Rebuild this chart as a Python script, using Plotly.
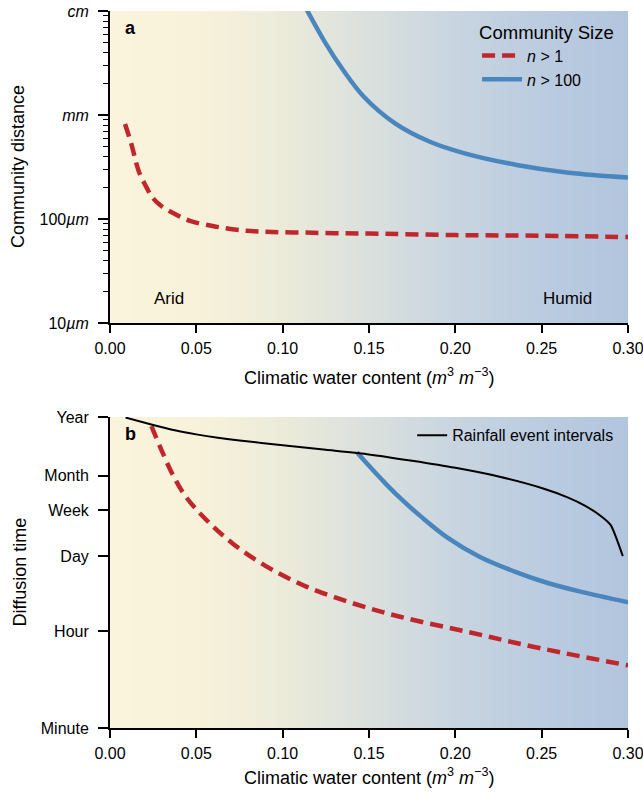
import plotly.graph_objects as go
import numpy as np

# ---------------- data ----------------
# Panel a: community distance (micrometres) vs climatic water content
a_n1_x = [0.0087, 0.0122, 0.0168, 0.0208, 0.0243, 0.029, 0.0365, 0.0463, 0.062, 0.079, 0.094, 0.112, 0.13, 0.15, 0.2, 0.25, 0.3]
a_n1_y = [818, 538, 283, 207, 163, 136, 114, 96, 84, 77, 75, 74, 73, 72.5, 70, 69, 67]

a_n100_x = [0.113, 0.1249, 0.135, 0.147, 0.1651, 0.1853, 0.2054, 0.2355, 0.2657, 0.3]
a_n100_y = [11000, 4890, 2710, 1500, 832, 553, 428, 331, 279, 251]

# Panel b: diffusion time (seconds)
b_n1_x = [0.024, 0.029, 0.036, 0.044, 0.056, 0.071, 0.091, 0.114, 0.141, 0.168, 0.207, 0.245, 0.3]
b_n1_y = [2.14e7, 8.9e6, 2.88e6, 1.07e6, 3.98e5, 1.49e5, 5.53e4, 2.37e4, 1.17e4, 6670, 3530, 1875, 850]

b_n100_x = [0.143, 0.150, 0.160, 0.170, 0.180, 0.195, 0.214, 0.234, 0.253, 0.272, 0.3]
b_n100_y = [7.08e6, 3.98e6, 1.82e6, 8.9e5, 4.68e5, 1.95e5, 8.5e4, 4.57e4, 2.82e4, 1.95e4, 1.23e4]

rain_x = [0.009, 0.025, 0.0375, 0.05, 0.0625, 0.075, 0.1, 0.125, 0.15, 0.175, 0.2, 0.225, 0.25, 0.265, 0.275, 0.285, 0.29, 0.297]
rain_y = [3.08e7, 2.25e7, 1.80e7, 1.51e7, 1.31e7, 1.17e7, 9.5e6, 7.85e6, 6.46e6, 4.93e6, 3.66e6, 2.54e6, 1.56e6, 1.05e6,
          7.41e5, 4.57e5, 3.24e5, 8.7e4]

x_ticks = [0.0, 0.05, 0.10, 0.15, 0.20, 0.25, 0.30]
a_tickvals = [10, 100, 1000, 10000]
a_ticktext = ["10<i>µm</i>", "100<i>µm</i>", "<i>mm</i>", "<i>cm</i>"]
a_minor = [m * d for d in (10, 100, 1000) for m in range(2, 10)]
b_tickvals = [60, 3600, 86400, 604800, 2629800, 31557600]
b_ticktext = ["Minute", "Hour", "Day", "Week", "Month", "Year"]

# ---------------- figure ----------------
FONT = "Liberation Sans, Arial, sans-serif"
RED = "#C0272D"
BLUE = "#4A86BE"
TICKF = 16
TITLEF = 18

fig = go.Figure()

fig.add_trace(go.Scatter(x=a_n1_x, y=a_n1_y, mode="lines", line=dict(color=RED, width=4.5, dash="13px,7px", shape="spline"),
                         name="<i>n</i> > 1", xaxis="x", yaxis="y", legend="legend"))
fig.add_trace(go.Scatter(x=a_n100_x, y=a_n100_y, mode="lines", line=dict(color=BLUE, width=4.5, shape="spline"),
                         name="<i>n</i> > 100", xaxis="x", yaxis="y", legend="legend"))
fig.add_trace(go.Scatter(x=b_n1_x, y=b_n1_y, mode="lines", line=dict(color=RED, width=4.5, dash="13px,7px", shape="spline"),
                         showlegend=False, xaxis="x2", yaxis="y2"))
fig.add_trace(go.Scatter(x=b_n100_x, y=b_n100_y, mode="lines", line=dict(color=BLUE, width=4.5, shape="spline"),
                         showlegend=False, xaxis="x2", yaxis="y2"))
fig.add_trace(go.Scatter(x=rain_x, y=rain_y, mode="lines", line=dict(color="black", width=2, shape="spline", smoothing=0.6),
                         name="Rainfall event intervals", xaxis="x2", yaxis="y2", legend="legend2"))

# background gradient
stops_x = [0.0, 0.05, 0.10, 0.15, 0.20, 0.25, 0.30]
stops_c = [(250, 244, 220), (248, 242, 218), (236, 235, 218), (218, 224, 221), (200, 213, 224), (187, 204, 224), (178, 197, 222)]
shapes = []
N = 120
edges = np.linspace(0, 0.3, N + 1)
for i in range(N):
    xm = 0.5 * (edges[i] + edges[i + 1])
    col = [int(round(np.interp(xm, stops_x, [c[k] for c in stops_c]))) for k in range(3)]
    for xr, yr in (("x", "y domain"), ("x2", "y2 domain")):
        shapes.append(dict(type="rect", xref=xr, yref=yr, x0=edges[i], x1=min(edges[i + 1] + 0.0015, 0.3), y0=0, y1=1,
                           fillcolor=f"rgb({col[0]},{col[1]},{col[2]})", line=dict(width=0), layer="below"))

xaxis_common = dict(range=[0, 0.3], tickvals=x_ticks, tickformat=".2f", showline=True, linewidth=2, linecolor="black",
                    ticks="outside", ticklen=8, tickwidth=2, tickcolor="black", showgrid=False, zeroline=False,
                    tickfont=dict(size=TICKF, color="black"), automargin=False, ticklabelstandoff=2,
                    ticklabeloverflow="allow")
ycommon = dict(showline=True, linewidth=2, linecolor="black", ticks="outside", ticklen=10, tickwidth=2, tickcolor="black",
               showgrid=False, zeroline=False, tickfont=dict(size=TICKF, color="black"), automargin=False,
               ticklabelstandoff=6, ticklabeloverflow="allow")

xtitle_txt = "Climatic water content (<i>m</i><sup>3</sup> <i>m</i><sup>−3</sup>)"

fig.update_layout(
    width=643, height=796,
    margin=dict(l=110, r=15, t=11, b=68),
    paper_bgcolor="white", plot_bgcolor="white",
    font=dict(family=FONT, color="black"),
    shapes=shapes,
    xaxis=dict(domain=[0, 1], anchor="y", **xaxis_common),
    yaxis=dict(domain=[0.5649, 1.0], anchor="x", type="log", range=[1, 4], tickvals=a_tickvals, ticktext=a_ticktext,
               minor=dict(tickvals=a_minor, ticks="outside", ticklen=5, tickwidth=1.2, tickcolor="black", showgrid=False),
               **ycommon),
    xaxis2=dict(domain=[0, 1], anchor="y2", **xaxis_common),
    yaxis2=dict(domain=[0.0, 0.4338], anchor="x2", type="log", range=[np.log10(60), np.log10(31557600)],
                tickvals=b_tickvals, ticktext=b_ticktext, **ycommon),
    legend=dict(x=0.977, xanchor="right", y=0.995, yanchor="top", bgcolor="rgba(0,0,0,0)",
                title=dict(text="Community Size", font=dict(size=18.5)), font=dict(size=16),
                tracegroupgap=0, itemwidth=40),
    legend2=dict(x=0.981, xanchor="right", y=0.432, yanchor="top", bgcolor="rgba(0,0,0,0)", font=dict(size=16)),
    annotations=[
        dict(text="<b>a</b>", xref="x domain", yref="y domain", x=0.025, y=0.985, xanchor="left", yanchor="top",
             showarrow=False, font=dict(size=18)),
        dict(text="<b>b</b>", xref="x2 domain", yref="y2 domain", x=0.025, y=0.985, xanchor="left", yanchor="top",
             showarrow=False, font=dict(size=18)),
        dict(text="Arid", xref="x", yref="y domain", x=0.034, y=0.08, xanchor="center", yanchor="middle",
             showarrow=False, font=dict(size=17)),
        dict(text="Humid", xref="x", yref="y domain", x=0.265, y=0.08, xanchor="center", yanchor="middle",
             showarrow=False, font=dict(size=17)),
        dict(text=xtitle_txt, xref="x domain", yref="y domain", x=0.5, y=-54 / 312, xanchor="center", yanchor="middle",
             showarrow=False, font=dict(size=TITLEF)),
        dict(text=xtitle_txt, xref="x2 domain", yref="y2 domain", x=0.5, y=-48 / 311, xanchor="center", yanchor="middle",
             showarrow=False, font=dict(size=TITLEF)),
        dict(text="Community distance", xref="x domain", yref="y domain", x=-92 / 518, y=0.5, xanchor="center",
             yanchor="middle", textangle=-90, showarrow=False, font=dict(size=TITLEF)),
        dict(text="Diffusion time", xref="x2 domain", yref="y2 domain", x=-90 / 518, y=0.5, xanchor="center",
             yanchor="middle", textangle=-90, showarrow=False, font=dict(size=TITLEF)),
    ],
)

fig.write_html("out.html")
